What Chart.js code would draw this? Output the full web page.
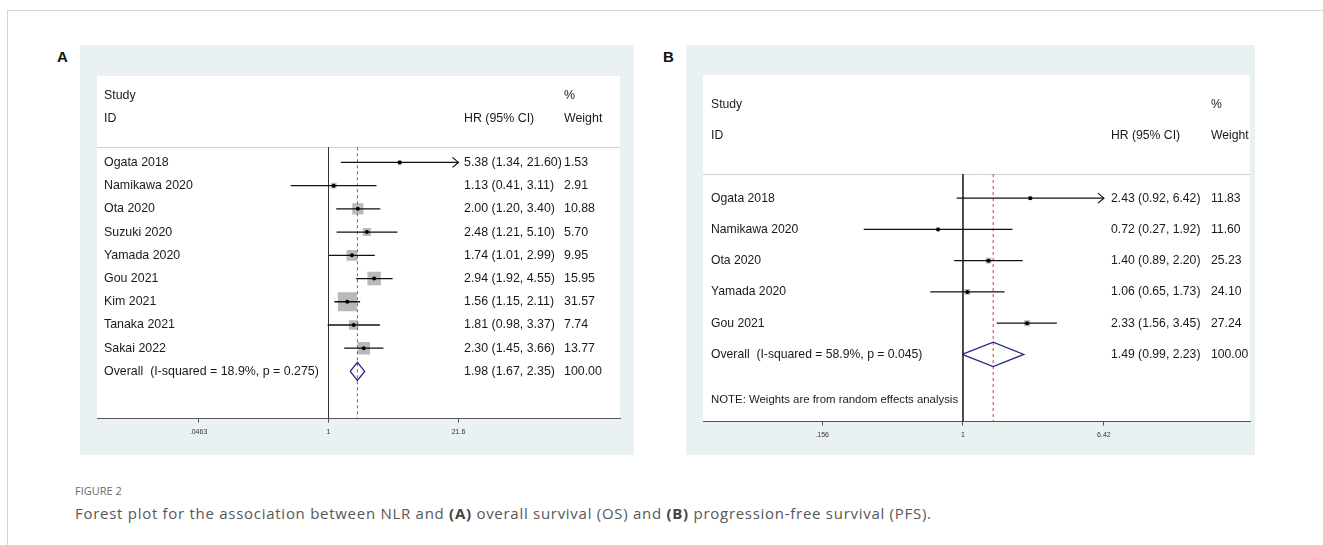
<!DOCTYPE html>
<html>
<head>
<meta charset="utf-8">
<script src="https://cdn.jsdelivr.net/npm/chart.js@4"></script>
<style>
  body { margin: 0; width: 1323px; height: 545px; background: #fff; position: relative; overflow: hidden; font-family: "Liberation Sans", Arial, sans-serif; }
  .frame { position: absolute; left: 7px; top: 10px; right: -2px; bottom: -2px; border-top: 1px solid #d6d6d6; border-left: 1px solid #d6d6d6; }
  .tag { position: absolute; top: 48px; font-weight: bold; font-size: 15px; color: #111; }
  canvas { position: absolute; }
  .fig { position: absolute; left: 75px; top: 483px; font-family: "Open Sans", sans-serif; font-size: 11px; color: #6a6a6a; }
  .cap { position: absolute; left: 75px; top: 503px; font-family: "Open Sans", sans-serif; font-size: 15px; letter-spacing: 0.72px; color: #575757; }
  .cap b { color: #444; }
</style>
</head>
<body>
<div class="frame"></div>
<div class="tag" style="left:57px">A</div>
<div class="tag" style="left:663px">B</div>
<canvas id="chartA" width="554" height="410" style="left:80px; top:45px"></canvas>
<canvas id="chartB" width="569" height="410" style="left:686px; top:45px"></canvas>
<div class="fig">FIGURE 2</div>
<div class="cap">Forest plot for the association between NLR and <b>(A)</b> overall survival (OS) and <b>(B)</b> progression-free survival (PFS).</div>
<script>
// ---- panel A: overall survival ----
const studiesA = ["Ogata 2018", "Namikawa 2020", "Ota 2020", "Suzuki 2020", "Yamada 2020", "Gou 2021", "Kim 2021", "Tanaka 2021", "Sakai 2022"];
const hrA = [5.38, 1.13, 2.00, 2.48, 1.74, 2.94, 1.56, 1.81, 2.30];
const lowerA = [1.34, 0.41, 1.20, 1.21, 1.01, 1.92, 1.15, 0.98, 1.45];
const upperA = [21.60, 3.11, 3.40, 5.10, 2.99, 4.55, 2.11, 3.37, 3.66];
const weightA = [1.53, 2.91, 10.88, 5.70, 9.95, 15.95, 31.57, 7.74, 13.77];
const overallA = [1.98, 1.67, 2.35]; // HR, lower, upper
const overallLabelA = "Overall  (I-squared = 18.9%, p = 0.275)";
const ticksA = [0.0463, 1, 21.6];
const tickLabelsA = [".0463", "1", "21.6"];

// ---- panel B: progression-free survival ----
const studiesB = ["Ogata 2018", "Namikawa 2020", "Ota 2020", "Yamada 2020", "Gou 2021"];
const hrB = [2.43, 0.72, 1.40, 1.06, 2.33];
const lowerB = [0.92, 0.27, 0.89, 0.65, 1.56];
const upperB = [6.42, 1.92, 2.20, 1.73, 3.45];
const weightB = [11.83, 11.60, 25.23, 24.10, 27.24];
const overallB = [1.49, 0.99, 2.23];
const overallLabelB = "Overall  (I-squared = 58.9%, p = 0.045)";
const ticksB = [0.156, 1, 6.42];
const tickLabelsB = [".156", "1", "6.42"];
const noteB = "NOTE: Weights are from random effects analysis";

const FONT = "Liberation Sans";

function forestPlugin(d, lay) {
  return {
    id: "forest",
    beforeDraw(chart) {
      const { ctx, chartArea: a, width, height } = chart;
      const y = chart.scales.y;
      ctx.save();
      ctx.fillStyle = "#eaf1f3";
      ctx.fillRect(0, 0, width, height);
      ctx.fillStyle = "#fff";
      ctx.fillRect(a.left, a.top, a.right - a.left, a.bottom - a.top);
      // separator under header
      const sy = Math.round(y.getPixelForValue(lay.sepRow)) + 0.5;
      ctx.strokeStyle = "#d2d2d2";
      ctx.lineWidth = 1;
      ctx.beginPath();
      ctx.moveTo(a.left, sy);
      ctx.lineTo(a.right, sy);
      ctx.stroke();
      ctx.restore();
    },
    afterDatasetsDraw(chart) {
      const { ctx } = chart;
      const x = chart.scales.x, y = chart.scales.y;
      const lastTick = d.ticks[d.ticks.length - 1];
      ctx.save();
      ctx.strokeStyle = "#111";
      ctx.lineWidth = 1.2;
      d.upper.forEach((u, i) => {
        if (u < lastTick) return;
        const px = x.getPixelForValue(lastTick), py = y.getPixelForValue(i);
        ctx.beginPath();
        ctx.moveTo(px - 6, py - 5);
        ctx.lineTo(px, py);
        ctx.lineTo(px - 6, py + 5);
        ctx.stroke();
      });
      ctx.restore();
    },
    afterDraw(chart) {
      const { ctx, chartArea: a } = chart;
      const y = chart.scales.y;
      const tx = a.left + lay.colStudy, hx = a.left + lay.colHR, wx = a.left + lay.colW;
      ctx.save();
      ctx.fillStyle = "#1a1a1a";
      ctx.font = lay.fontSize + "px '" + FONT + "'";
      ctx.textBaseline = "middle";
      ctx.textAlign = "left";
      const row = r => y.getPixelForValue(r);
      ctx.fillText("Study", tx, row(lay.studyRow));
      ctx.fillText("ID", tx, row(lay.idRow));
      ctx.fillText("%", wx, row(lay.studyRow));
      ctx.fillText("HR (95% CI)", hx, row(lay.idRow));
      ctx.fillText("Weight", wx, row(lay.idRow));
      d.studies.forEach((s, i) => {
        ctx.fillText(s, tx, row(i));
        ctx.fillText(d.hr[i].toFixed(2) + " (" + d.lower[i].toFixed(2) + ", " + d.upper[i].toFixed(2) + ")", hx, row(i));
        ctx.fillText(d.weight[i].toFixed(2), wx, row(i));
      });
      const n = d.studies.length;
      ctx.fillText(d.overallLabel, tx, row(n));
      ctx.fillText(d.overall[0].toFixed(2) + " (" + d.overall[1].toFixed(2) + ", " + d.overall[2].toFixed(2) + ")", hx, row(n));
      ctx.fillText((100).toFixed(2), wx, row(n));
      if (d.note) {
        ctx.font = "11.4px '" + FONT + "'";
        ctx.fillText(d.note, tx, row(lay.noteRow));
      }
      ctx.restore();
    }
  };
}

function drawForest(canvasId, d, lay) {
  const n = d.studies.length;
  const firstTick = d.ticks[0], lastTick = d.ticks[d.ticks.length - 1];
  const [ov, ovLo, ovHi] = d.overall;

  const dots = {
    data: d.hr.map((v, i) => ({ x: v, y: i })),
    pointStyle: "circle", pointRadius: 2, pointBackgroundColor: "#000", pointBorderWidth: 0, order: 0
  };
  const boxes = {
    data: d.hr.map((v, i) => ({ x: v, y: i })),
    pointStyle: "rect",
    pointRadius: d.weight.map(w => lay.boxScale * Math.sqrt(w) / Math.SQRT2),
    pointBackgroundColor: "#b9b9b9", pointBorderWidth: 0, order: 3
  };
  const ciLines = d.studies.map((s, i) => ({
    data: [{ x: Math.max(d.lower[i], firstTick), y: i }, { x: Math.min(d.upper[i], lastTick), y: i }],
    showLine: true, borderColor: "#111", borderWidth: 1.3, pointRadius: 0, order: 1
  }));
  const diamond = {
    data: [
      { x: ovLo, y: n }, { x: ov, y: n - lay.diamondH }, { x: ovHi, y: n },
      { x: ov, y: n + lay.diamondH }, { x: ovLo, y: n }
    ],
    showLine: true, borderColor: "#262680", borderWidth: 1.3, pointRadius: 0, order: 1
  };
  const nullLine = {
    data: [{ x: 1, y: lay.sepRow }, { x: 1, y: lay.yMax }],
    showLine: true, borderColor: "#333", borderWidth: 1, pointRadius: 0, order: 2
  };
  const overallLine = {
    data: [{ x: ov, y: lay.sepRow }, { x: ov, y: lay.yMax }],
    showLine: true, borderColor: "#d03a3a", borderWidth: 1, borderDash: [3, 3], pointRadius: 0, order: 2
  };

  new Chart(document.getElementById(canvasId), {
    type: "scatter",
    data: { datasets: [dots, ...ciLines, diamond, nullLine, overallLine, boxes] },
    options: {
      responsive: false,
      animation: false,
      layout: { padding: lay.padding },
      plugins: { legend: { display: false }, tooltip: { enabled: false } },
      scales: {
        x: {
          type: "logarithmic",
          min: lay.xMin, max: lay.xMax, bounds: "data",
          afterBuildTicks: s => { s.ticks = d.ticks.map(v => ({ value: v })); },
          ticks: {
            autoSkip: false, maxRotation: 0, padding: 5,
            font: { family: FONT, size: 7 }, color: "#333",
            callback: (v, i) => d.tickLabels[i]
          },
          grid: { drawOnChartArea: false, drawTicks: true, tickLength: 4, color: "#555" },
          border: { color: "#555", width: 1 }
        },
        y: { type: "linear", display: false, reverse: true, min: lay.yMin, max: lay.yMax }
      }
    },
    plugins: [forestPlugin(d, lay)]
  });
}

drawForest("chartA",
  { studies: studiesA, hr: hrA, lower: lowerA, upper: upperA, weight: weightA, overall: overallA,
    overallLabel: overallLabelA, ticks: ticksA, tickLabels: tickLabelsA },
  { padding: { left: 17, right: 14, top: 31, bottom: 14 },
    xMin: 0.0042, xMax: 983, yMin: -3.72, yMax: 11.03,
    studyRow: -2.86, idRow: -1.9, sepRow: -0.65, fontSize: 12.4,
    colStudy: 7, colHR: 367, colW: 467, boxScale: 3.38, diamondH: 0.39 });

drawForest("chartB",
  { studies: studiesB, hr: hrB, lower: lowerB, upper: upperB, weight: weightB, overall: overallB,
    overallLabel: overallLabelB, ticks: ticksB, tickLabels: tickLabelsB, note: noteB },
  { padding: { left: 17, right: 5, top: 30, bottom: 11 },
    xMin: 0.0324, xMax: 44.1, yMin: -3.94, yMax: 7.15,
    studyRow: -2.98, idRow: -1.99, sepRow: -0.77, noteRow: 6.47, fontSize: 12.2,
    colStudy: 8, colHR: 408, colW: 508, boxScale: 1.15, diamondH: 0.39 });
</script>
</body>
</html>
